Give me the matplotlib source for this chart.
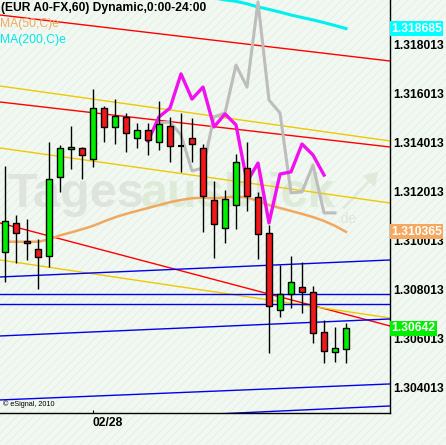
import matplotlib
matplotlib.use('Agg')
import matplotlib.pyplot as plt
from matplotlib.patches import Rectangle
import numpy as np

# candles, hourly EUR
opens  = [1.30953, 1.31072, 1.30999, 1.30965, 1.30938, 1.31260, 1.31374, 1.31379,
          1.31334, 1.31542, 1.31464, 1.31508, 1.31419, 1.31452, 1.31403, 1.31469,
          1.31389, 1.31419, 1.31379, 1.31167, 1.31051, 1.31145, 1.31297, 1.31178,
          1.31031, 1.30715, 1.30781, 1.30810, 1.30789, 1.30625, 1.30544, 1.30556]
highs  = [1.31306, 1.31106, 1.31089, 1.31006, 1.31404, 1.31392, 1.31470, 1.31385,
          1.31620, 1.31552, 1.31579, 1.31522, 1.31483, 1.31483, 1.31572, 1.31505,
          1.31522, 1.31501, 1.31396, 1.31245, 1.31207, 1.31355, 1.31403, 1.31198,
          1.31063, 1.30901, 1.30938, 1.30912, 1.30815, 1.30676, 1.30646, 1.30665]
lows   = [1.30833, 1.30910, 1.30921, 1.30801, 1.30894, 1.31201, 1.31293, 1.31254,
          1.31303, 1.31403, 1.31395, 1.31365, 1.31381, 1.31352, 1.31373, 1.31324,
          1.31283, 1.31324, 1.31035, 1.30931, 1.30992, 1.31050, 1.31123, 1.30924,
          1.30542, 1.30689, 1.30724, 1.30703, 1.30580, 1.30501, 1.30505, 1.30501]
closes = [1.31080, 1.31031, 1.30990, 1.30932, 1.31252, 1.31379, 1.31383, 1.31350,
          1.31542, 1.31467, 1.31511, 1.31440, 1.31452, 1.31411, 1.31477, 1.31387,
          1.31389, 1.31395, 1.31185, 1.31067, 1.31170, 1.31321, 1.31185, 1.31027,
          1.30733, 1.30781, 1.30830, 1.30792, 1.30621, 1.30548, 1.30561, 1.30642]

ma50 = [1.30996, 1.30996, 1.30996, 1.30996, 1.31005, 1.31022, 1.31034, 1.31047,
        1.31061, 1.31079, 1.31096, 1.31110, 1.31122, 1.31134, 1.31146, 1.31158,
        1.31167, 1.31174, 1.31176, 1.31174, 1.31177, 1.31181, 1.31177, 1.31163,
        1.31146, 1.31134, 1.31122, 1.31110, 1.31097, 1.31081, 1.31061, 1.310365]
ma200_start = 19
ma200 = [1.31994, 1.31986, 1.31980, 1.31970, 1.31957, 1.31947, 1.31936,
         1.31924, 1.31914, 1.31904, 1.31893, 1.31881, 1.318685]

# overlay lines (grey and magenta)
grey_start = 14
grey = [1.31482, 1.31486, 1.31433, 1.31286, 1.31298, 1.31507, 1.31523, 1.31719,
        1.31629, 1.31977, 1.31576, 1.31523, 1.31196, 1.31200, 1.31310, 1.31114, 1.31114]
magenta_start = 13
magenta = [1.31408, 1.31507, 1.31543, 1.31683, 1.31580, 1.31629, 1.31466, 1.31519,
           1.31474, 1.31241, 1.31318, 1.31073, 1.31273, 1.31282, 1.31396, 1.31351, 1.31269]

# trend lines: price at left edge and right edge of the plot
trend_x = [-0.4545, 35.0]
trend_lines = [
    ('red',     1.319241, 1.317358),
    ('red',     1.315680, 1.313838),
    ('red',     1.310727, 1.306512),
    ('#f0c800', 1.316335, 1.314084),
    ('#f0c800', 1.313797, 1.311546),
    ('#f0c800', 1.309213, 1.306839),
    ('#0000ee', 1.308517, 1.309213),
    ('#0000ee', 1.307821, 1.307821),
    ('#0000ee', 1.307412, 1.307412),
    ('#0000ee', 1.306102, 1.306798),
    ('#0000ee', 1.303483, 1.304138),
    ('#0000ee', 1.302501, 1.303237),
]

yticks = [1.304013, 1.306013, 1.308013, 1.310013, 1.312013, 1.314013, 1.316013, 1.318013]
date_tick = 8
date_label = '02/28'

bg = '#f1f8f1'
plt.rcParams['hatch.color'] = '#e4eee4'
plt.rcParams['hatch.linewidth'] = 0.6
plt.rcParams['font.family'] = ['Liberation Sans', 'DejaVu Sans']

W, H = 446, 445
fig = plt.figure(figsize=(W / 100, H / 100), dpi=100, facecolor=bg)
fig.patches.append(Rectangle((0, 0), 1, 1, transform=fig.transFigure, facecolor=bg,
                             edgecolor='#e4eee4', hatch='////', linewidth=0, zorder=-10))
ax = fig.add_axes([0, 32 / H, 390 / W, 413 / H])
ax.set_facecolor('none')

# watermark
ax.text(0.02, 0.53, 'Tages', transform=ax.transAxes, fontsize=35, fontweight='bold',
        color='#d8dcd8', alpha=0.7, va='center', zorder=0)
ax.text(0.36, 0.53, 'ausblick', transform=ax.transAxes, fontsize=35, fontweight='bold',
        color='#d6e6d0', alpha=0.7, va='center', zorder=0)
ax.text(0.865, 0.46, '.de', transform=ax.transAxes, fontsize=10, color='#dde6da', zorder=0)
ax.annotate('', xy=(0.975, 0.59), xytext=(0.875, 0.49), xycoords='axes fraction',
            arrowprops=dict(arrowstyle='simple,head_width=1.2,head_length=1', color='#dfeadb',
                            lw=0), zorder=0)

x = np.arange(len(opens))

for c, a, b in trend_lines:
    ax.plot(trend_x, [a, b], color=c, lw=1.0, zorder=1)

ax.plot(x, ma50, color='#f0a860', lw=1.8, zorder=2)
ax.plot(np.arange(ma200_start, ma200_start + len(ma200)), ma200, color='#00f0f0', lw=2.2, zorder=2)
ax.plot(np.arange(grey_start, grey_start + len(grey)), grey, color='#bdbdbd', lw=2.2, zorder=2)
ax.plot(np.arange(magenta_start, magenta_start + len(magenta)), magenta, color='#f010f0',
        lw=2.4, zorder=3)

o = np.array(opens); c_ = np.array(closes)
ax.vlines(x, lows, highs, color='black', lw=1.0, zorder=4)
up = c_ > o
down = c_ < o
ax.bar(x[up], (c_ - o)[up], bottom=o[up], width=0.62, color='#00ee00', edgecolor='black',
       lw=1.0, zorder=5)
ax.bar(x[down], (o - c_)[down], bottom=c_[down], width=0.62, color='#f01818', edgecolor='black',
       lw=1.0, zorder=5)
flat = ~(up | down)
ax.hlines(o[flat], x[flat] - 0.31, x[flat] + 0.31, color='black', lw=1.5, zorder=5)

ax.set_xlim(-0.4545, 35.0)
ax.set_ylim(1.302949, 1.319855)

for s in ['top', 'left']:
    ax.spines[s].set_visible(False)
ax.spines['right'].set_linewidth(1.0)
ax.spines['bottom'].set_linewidth(1.0)

ax.yaxis.tick_right()
ax.set_yticks(yticks)
ax.set_yticklabels(['%.6f' % v for v in yticks], fontsize=8.7, fontweight='bold')
ax.tick_params(axis='y', length=0, pad=2)
ax.set_xticks([date_tick])
ax.set_xticklabels([date_label], fontsize=8.7, fontweight='bold', ha='left')
ax.tick_params(axis='x', direction='in', length=2, pad=3)

# price boxes on the axis
for val, col, txt in [(ma200[-1], '#00ffff', '1.318685'), (ma50[-1], '#f4a860', '1.310365'),
                      (closes[-1], '#00ee00', '1.30642')]:
    ax.text(1.003, val, txt, transform=ax.get_yaxis_transform(), fontsize=8.7,
            fontweight='bold', color='white', va='center', ha='left', clip_on=False,
            bbox=dict(boxstyle='square,pad=0.12', facecolor=col, edgecolor='none'), zorder=10)

fig.text(1 / W, 1 - 2 / H, '(EUR A0-FX,60) Dynamic,0:00-24:00', fontsize=8.7,
         fontweight='bold', va='top', ha='left')
fig.text(0, 1 - 18 / H, 'MA(50,C)e', fontsize=8.7, color='#f0a860', va='top', ha='left')
fig.text(0, 1 - 34 / H, 'MA(200,C)e', fontsize=8.7, color='#00e8e8', va='top', ha='left')
ax.text(0.008, 0.012, '\u00a9 eSignal, 2010', transform=ax.transAxes, fontsize=5.2,
        va='bottom', ha='left')

fig.savefig('out.png', dpi=100, facecolor=bg)
